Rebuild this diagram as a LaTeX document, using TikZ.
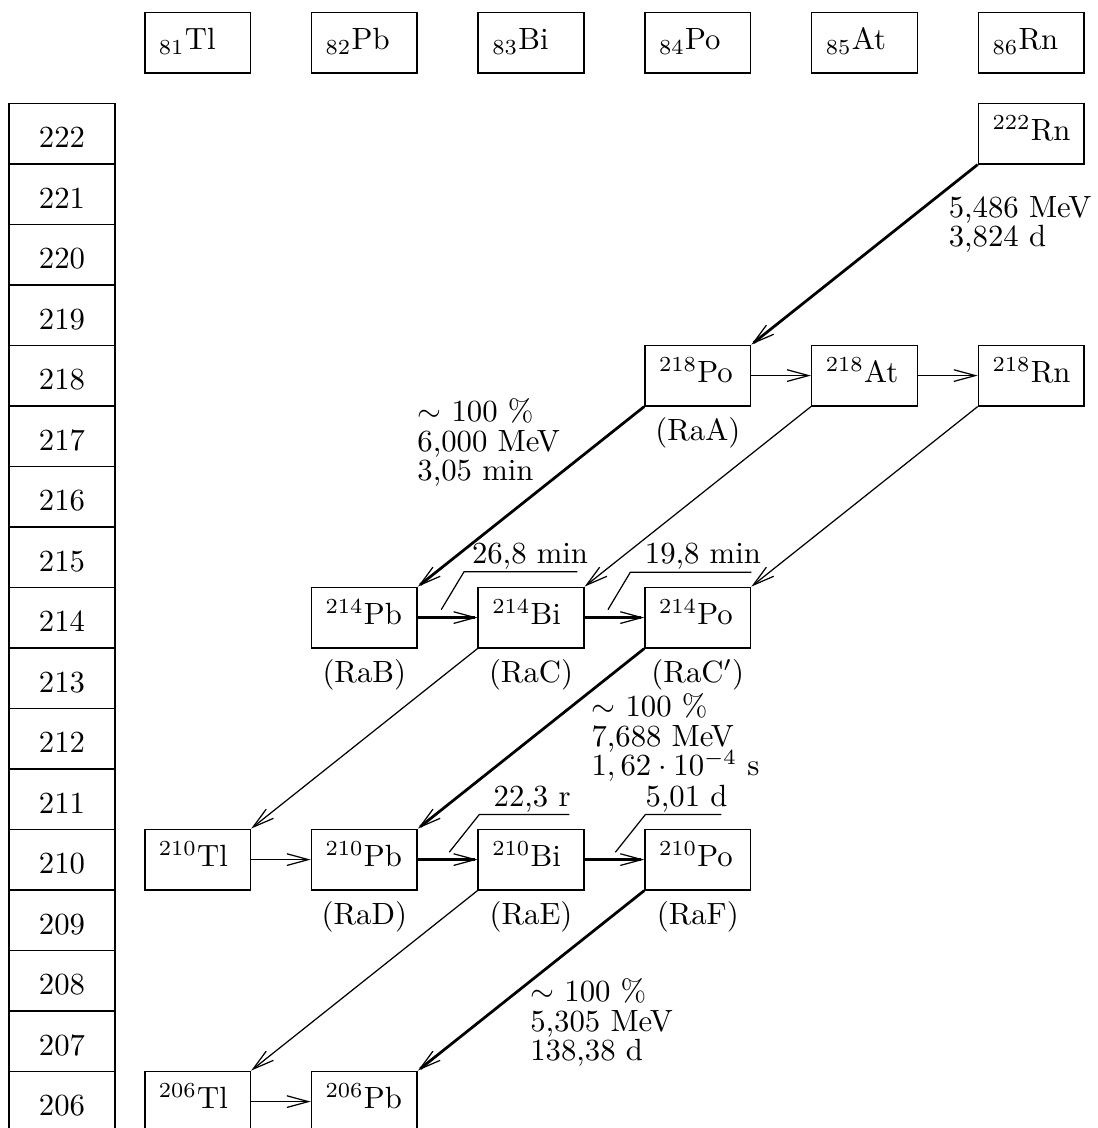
\documentclass[tikz,border=0pt]{standalone}
\usetikzlibrary{arrows.meta, positioning}

\begin{document}
\begin{tikzpicture}[
    x=54.29pt,
    y=19.70pt,
    mass/.style={draw, line width=0.5pt, minimum width=34.4pt, minimum height=19.7pt, inner sep=0pt, text height=9.2pt, text depth=0pt},
    elem/.style={draw, line width=0.5pt, minimum width=34.4pt, minimum height=19.7pt, inner xsep=4.6pt, inner ysep=0pt, text width=25.2pt, align=left, text height=8pt, text depth=3.4pt},
    info/.style={anchor=north west, inner sep=0pt, align=left, font={\fontsize{10pt}{9.6pt}\selectfont\lineskiplimit=-10pt}},
    hl/.style={anchor=base east, inner sep=0pt, yshift=2.7pt},
    lead/.style={line width=0.4pt},
    branch/.style={-{Straight Barb[length=7pt, width=3.8pt, line width=0.4pt]}, line width=0.4pt},
    chain/.style={branch, line width=0.9pt}
]
\useasboundingbox (-1.185,-0.436) rectangle (5.397,18.208);
% mass numbers
\node[mass] (m222) at (-0.813,16) {222};
\node[mass] (m221) at (-0.813,15) {221};
\node[mass] (m220) at (-0.813,14) {220};
\node[mass] (m219) at (-0.813,13) {219};
\node[mass] (m218) at (-0.813,12) {218};
\node[mass] (m217) at (-0.813,11) {217};
\node[mass] (m216) at (-0.813,10) {216};
\node[mass] (m215) at (-0.813,9) {215};
\node[mass] (m214) at (-0.813,8) {214};
\node[mass] (m213) at (-0.813,7) {213};
\node[mass] (m212) at (-0.813,6) {212};
\node[mass] (m211) at (-0.813,5) {211};
\node[mass] (m210) at (-0.813,4) {210};
\node[mass] (m209) at (-0.813,3) {209};
\node[mass] (m208) at (-0.813,2) {208};
\node[mass] (m207) at (-0.813,1) {207};
\node[mass] (m206) at (-0.813,0) {206};
% elements
\node[elem] (zTl) at (0,17.5) {$_{81}$Tl};
\node[elem] (zPb) at (1,17.5) {$_{82}$Pb};
\node[elem] (zBi) at (2,17.5) {$_{83}$Bi};
\node[elem] (zPo) at (3,17.5) {$_{84}$Po};
\node[elem] (zAt) at (4,17.5) {$_{85}$At};
\node[elem] (zRn) at (5,17.5) {$_{86}$Rn};
% nuclides
\node[elem] (rn222) at (5,16) {$^{222}$Rn};
\node[elem] (po218) at (3,12) {$^{218}$Po};
\node[elem] (at218) at (4,12) {$^{218}$At};
\node[elem] (rn218) at (5,12) {$^{218}$Rn};
\node[elem] (pb214) at (1,8) {$^{214}$Pb};
\node[elem] (bi214) at (2,8) {$^{214}$Bi};
\node[elem] (po214) at (3,8) {$^{214}$Po};
\node[elem] (tl210) at (0,4) {$^{210}$Tl};
\node[elem] (pb210) at (1,4) {$^{210}$Pb};
\node[elem] (bi210) at (2,4) {$^{210}$Bi};
\node[elem] (po210) at (3,4) {$^{210}$Po};
\node[elem] (tl206) at (0,0) {$^{206}$Tl};
\node[elem] (pb206) at (1,0) {$^{206}$Pb};
% old names
\node[below=0pt of po218] (raA) {(RaA)};
\node[below=0pt of pb214] (raB) {(RaB)};
\node[below=0pt of bi214] (raC) {(RaC)};
\node[below=0pt of po214] (raC1) {(RaC$'$)};
\node[below=0pt of pb210] (raD) {(RaD)};
\node[below=0pt of bi210] (raE) {(RaE)};
\node[below=0pt of po210] (raF) {(RaF)};
% alpha data
\node[info] (al222) at (4.502,14.977) {5,486 MeV\\3,824 d};
\node[info] (al218) at (1.315,11.63) {$\sim$ 100 \%\\6,000 MeV\\3,05 min};
\node[info] (al214) at (2.359,6.749) {$\sim$ 100 \%\\7,688 MeV\\$1,62\cdot10^{-4}$ s};
\node[info] (al210) at (1.992,2.038) {$\sim$ 100 \%\\5,305 MeV\\138,38 d};
% decays
\draw[chain] (rn222.south west) -- (po218.north east);
\draw[branch] (po218.east) -- (at218.west);
\draw[branch] (at218.east) -- (rn218.west);
\draw[chain] (po218.south west) -- (pb214.north east);
\draw[branch] (at218.south west) -- (bi214.north east);
\draw[branch] (rn218.south west) -- (po214.north east);
\draw[chain] (pb214.east) -- (bi214.west);
\draw[chain] (bi214.east) -- (po214.west);
\draw[branch] (bi214.south west) -- (tl210.north east);
\draw[chain] (po214.south west) -- (pb210.north east);
\draw[branch] (tl210.east) -- (pb210.west);
\draw[chain] (pb210.east) -- (bi210.west);
\draw[chain] (bi210.east) -- (po210.west);
\draw[branch] (bi210.south west) -- (tl206.north east);
\draw[chain] (po210.south west) -- (pb206.north east);
\draw[branch] (tl206.east) -- (pb206.west);
% half lives
\draw[lead] ([shift={(7.6pt,2.6pt)}]pb214.east) -- ++(7.4pt,12.3pt) -- ++(36.9pt,0pt) node[hl, xshift=3.7pt] (hl214pb) {26,8 min};
\draw[lead] ([shift={(7.6pt,2.6pt)}]bi214.east) -- ++(7.3pt,12.2pt) -- ++(39.4pt,0pt) node[hl, xshift=3.3pt] (hl214bi) {19,8 min};
\draw[lead] ([shift={(10.2pt,2.4pt)}]pb210.east) -- ++(9.8pt,12.3pt) -- ++(29.3pt,0pt) node[hl, xshift=0.6pt] (hl210pb) {22,3 r};
\draw[lead] ([shift={(10pt,2.4pt)}]bi210.east) -- ++(9.8pt,12.3pt) -- ++(24.7pt,0pt) node[hl, xshift=2.2pt] (hl210bi) {5,01 d};
\end{tikzpicture}
\end{document}
